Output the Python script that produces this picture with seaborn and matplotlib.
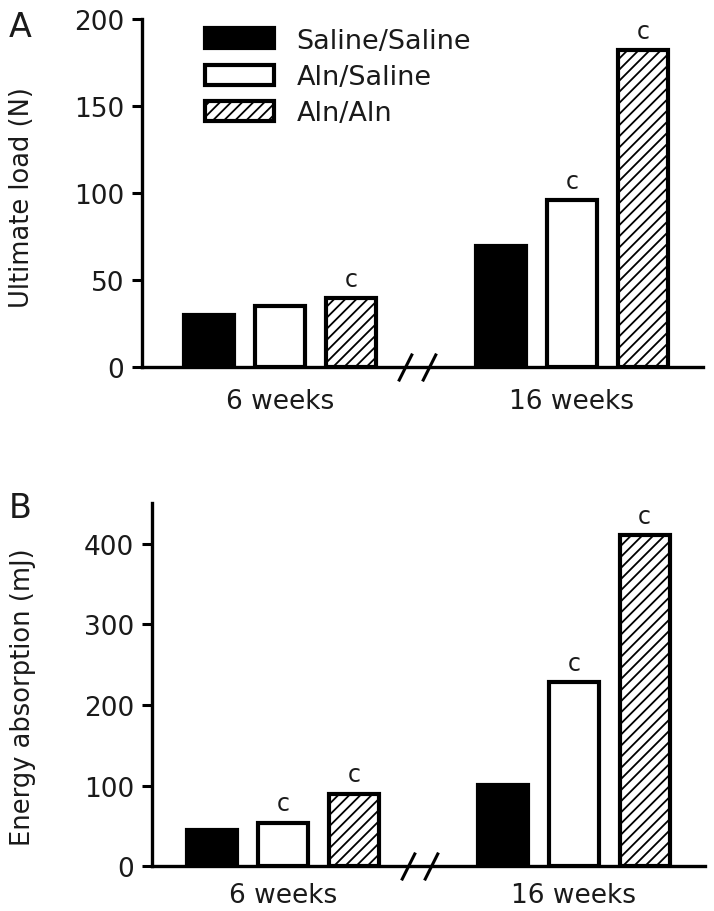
import matplotlib
matplotlib.use("Agg")
import matplotlib.pyplot as plt
import matplotlib.transforms as mtransforms
from matplotlib.patches import Patch
import numpy as np
import pandas as pd
import seaborn as sns

weeks = ["6 weeks", "16 weeks"]
groups = ["Saline/Saline", "Aln/Saline", "Aln/Aln"]

load_6wk = [30, 35, 40]
load_16wk = [70, 96, 182]
load_sig_6wk = ["", "", "c"]
load_sig_16wk = ["", "c", "c"]

energy_6wk = [45, 54, 90]
energy_16wk = [101, 228, 411]
energy_sig_6wk = ["", "c", "c"]
energy_sig_16wk = ["", "c", "c"]

load_ticks = [0, 50, 100, 150, 200]
energy_ticks = [0, 100, 200, 300, 400]

sns.set_style("white")
plt.rcParams['font.family'] = ['DejaVu Sans']
plt.rcParams['hatch.linewidth'] = 1.3
plt.rcParams['text.color'] = '#1a1a1a'
plt.rcParams['axes.labelcolor'] = '#1a1a1a'
plt.rcParams['xtick.color'] = '#1a1a1a'
plt.rcParams['ytick.color'] = 'black'
plt.rcParams['xtick.labelcolor'] = '#1a1a1a'
plt.rcParams['ytick.labelcolor'] = '#1a1a1a'

fills = {"Saline/Saline": "black", "Aln/Saline": "white", "Aln/Aln": "white"}
hatches = {"Saline/Saline": "", "Aln/Saline": "", "Aln/Aln": "///"}


def make_frame(v6, v16, s6, s16):
    rows = []
    for g, a, b, sa, sb in zip(groups, v6, v16, s6, s16):
        rows.append((weeks[0], g, a, sa))
        rows.append((weeks[1], g, b, sb))
    return pd.DataFrame(rows, columns=["week", "group", "value", "sig"])


def draw_panel(ax, df, ticks, ylim, ylabel, xlim, letter_off, xpad, label_xy):
    sns.barplot(data=df, x="week", y="value", hue="group", order=weeks, hue_order=groups,
                palette=fills, errorbar=None, width=0.73, gap=0.3, legend=False,
                edgecolor="black", linewidth=3, ax=ax)
    for g, cont in zip(groups, ax.containers):
        sub = df[df["group"] == g].set_index("week")
        for bar, w in zip(cont, weeks):
            bar.set_hatch(hatches[g])
            s = sub.loc[w, "sig"]
            if s:
                ax.text(bar.get_x() + bar.get_width() / 2, bar.get_height() + letter_off, s,
                        ha="center", va="bottom", fontsize=17)
    ax.set_ylim(*ylim)
    ax.set_xlim(*xlim)
    ax.set_yticks(ticks)
    ax.set_xlabel("")
    ax.set_ylabel(ylabel, fontsize=18.5)
    ax.yaxis.set_label_coords(*label_xy)
    ax.tick_params(axis="y", direction="out", length=7, width=2.2, labelsize=19, pad=6, left=True)
    ax.tick_params(axis="x", length=0, labelsize=19, pad=xpad)
    for side in ["top", "right"]:
        ax.spines[side].set_visible(False)
    for side in ["left", "bottom"]:
        ax.spines[side].set_linewidth(2.4)
        ax.spines[side].set_color("black")
    # axis break marks between the two time points
    trans = mtransforms.blended_transform_factory(ax.transData, ax.transAxes)
    ax.plot([0.43, 0.51], [0, 0], transform=trans, ls="none", color="black",
            marker=[(-0.5, -1), (0.5, 1)], markersize=20, mew=2.2, clip_on=False)


fig = plt.figure(figsize=(7.14, 9.12), dpi=100)
ax_a = fig.add_axes([0.199, 0.596, 0.786, 0.382])
ax_b = fig.add_axes([0.213, 0.049, 0.775, 0.398])

draw_panel(ax_a, make_frame(load_6wk, load_16wk, load_sig_6wk, load_sig_16wk),
           load_ticks, (0, 200), "Ultimate load (N)", (-0.472, 1.45), 4, 15, (-0.19, 0.49))
draw_panel(ax_b, make_frame(energy_6wk, energy_16wk, energy_sig_6wk, energy_sig_16wk),
           energy_ticks, (0, 450), "Energy absorption (mJ)", (-0.45, 1.452), 9, 11, (-0.21, 0.47))

handles = [Patch(facecolor=fills[g], edgecolor="black", hatch=hatches[g], linewidth=3) for g in groups]
ax_a.legend(handles, groups, loc="upper left", bbox_to_anchor=(0.068, 1.045), frameon=False,
            fontsize=19.5, handlelength=2.55, handleheight=0.75, labelspacing=0.38, handletextpad=0.85)

fig.text(0.012, 0.988, "A", fontsize=24, va="top")
fig.text(0.012, 0.460, "B", fontsize=24, va="top")

fig.savefig("out.png", dpi=100)
